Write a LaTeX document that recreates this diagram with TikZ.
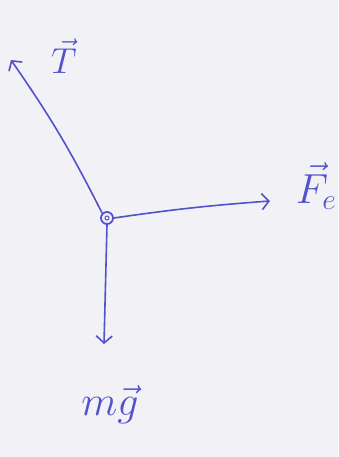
\RequirePackage{fix-cm}
\documentclass[tikz,border=0pt]{standalone}
\usetikzlibrary{arrows.meta}
\definecolor{ink}{RGB}{82,82,205}
\definecolor{paper}{RGB}{241,241,246}
\begin{document}
\begin{tikzpicture}[x=1pt,y=-1pt,
  force/.style={ink,line width=1.6pt,-{Straight Barb[length=7pt,width=16pt]}},
  lab/.style={ink,inner sep=0pt}]
\fill[paper] (0,0) rectangle (338,457);
\useasboundingbox (0,0) rectangle (338,457);
\node[circle,draw=ink,line width=1.8pt,minimum size=12pt,inner sep=0pt] (o) at (107,218) {};
\node[circle,draw=ink,line width=1pt,minimum size=4pt,inner sep=0pt] (oi) at (107,218) {};
\coordinate (tT) at (11,60);
\coordinate (tF) at (270,201);
\coordinate (tG) at (104,344);
\draw[force] (o.north west) to[bend right=4] (tT);
\draw[force] (o.east) to[bend left=2] (tF);
\draw[force] (o.south) -- (tG);
\node[lab,font=\fontsize{36}{40}\selectfont] (lT) at (64,56) {$\vec{T}$};
\node[lab,font=\fontsize{42}{46}\selectfont] (lF) at (316,186) {$\vec{F_e}$};
\node[lab,font=\fontsize{42}{46}\selectfont] (lG) at (110,405) {$m\vec{g}$};
\end{tikzpicture}
\end{document}
